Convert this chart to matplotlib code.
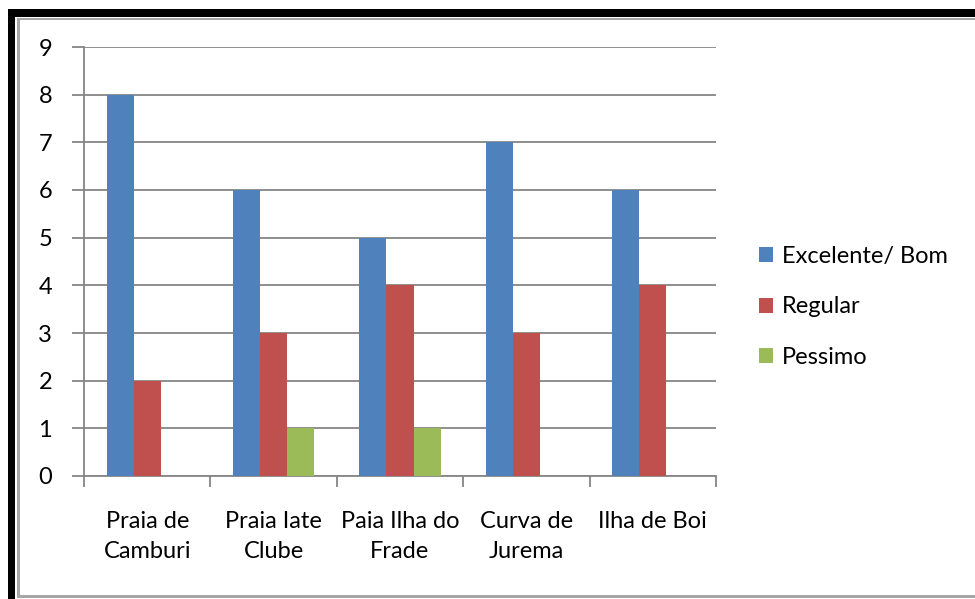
import numpy as np
import matplotlib
matplotlib.use("Agg")
import matplotlib.pyplot as plt
from matplotlib.patches import Rectangle

categories = ["Praia de\nCamburi", "Praia Iate\nClube", "Paia Ilha do\nFrade", "Curva de\nJurema", "Ilha de Boi"]
series_names = ["Excelente/ Bom", "Regular", "Pessimo"]
excelente_bom = [8, 6, 5, 7, 6]
regular = [2, 3, 4, 3, 4]
pessimo = [0, 1, 1, 0, 0]
y_ticks = [0, 1, 2, 3, 4, 5, 6, 7, 8, 9]

colors = ["#4F81BD", "#C0504D", "#9BBB59"]
grid_color = "#868686"
font = "Lato"
fsize = 17

W, H = 975, 599
fig = plt.figure(figsize=(W / 100, H / 100), dpi=100)
fig.patch.set_facecolor("white")

def fx(px):
    return px / W

def fy(py):
    return 1 - py / H

# frame around the chart
fig.patches.append(Rectangle((fx(8), 0), fx(7), fy(9), transform=fig.transFigure,
                             facecolor="black", edgecolor="none"))
fig.patches.append(Rectangle((fx(8), fy(17)), 1, fy(9) - fy(17), transform=fig.transFigure,
                             facecolor="black", edgecolor="none"))
fig.patches.append(Rectangle((fx(17), fy(20)), 1, fy(18) - fy(20), transform=fig.transFigure,
                             facecolor="#A6A6A6", edgecolor="none"))
fig.patches.append(Rectangle((fx(17), fy(598)), fx(3), fy(18) - fy(598), transform=fig.transFigure,
                             facecolor="#A6A6A6", edgecolor="none"))
fig.patches.append(Rectangle((fx(17), fy(598)), 1, fy(595) - fy(598), transform=fig.transFigure,
                             facecolor="#A6A6A6", edgecolor="none"))

ax_left, ax_right, ax_top, ax_bottom = 84, 716, 47, 476
ax = fig.add_axes([fx(ax_left), fy(ax_bottom), fx(ax_right - ax_left), fy(ax_top) - fy(ax_bottom)])

n = len(categories)
x = np.arange(n)
bar_w = 27 / 126
series = [excelente_bom, regular, pessimo]
bars = []
for i, (vals, c) in enumerate(zip(series, colors)):
    b = ax.bar(x + (i - 1) * bar_w, vals, width=bar_w, color=c, edgecolor="none", zorder=3)
    bars.append(b)

ax.set_xlim(-0.5, n - 0.5)
ax.set_ylim(0, 9)
ax.set_yticks(y_ticks)
ax.set_yticklabels([str(t) for t in y_ticks], fontfamily=font, fontsize=fsize)
ax.yaxis.grid(True, color=grid_color, linewidth=1.3, zorder=0)
ax.set_axisbelow(True)

ax.set_xticks(x)
ax.set_xticklabels(categories, fontfamily=font, fontsize=fsize, linespacing=1.55)
ax.set_xticks(np.arange(-0.5, n, 1), minor=True)
ax.tick_params(axis="x", which="major", length=0, pad=25)
ax.tick_params(axis="x", which="minor", length=8, width=1.3, color=grid_color)
ax.tick_params(axis="y", length=9, width=1.3, color=grid_color, pad=14)

for side in ["top", "right"]:
    ax.spines[side].set_visible(False)
for side in ["left", "bottom"]:
    ax.spines[side].set_color(grid_color)
    ax.spines[side].set_linewidth(1.3)

leg = fig.legend(bars, series_names, loc="center left", bbox_to_anchor=(fx(738), fy(307)),
                 frameon=False, prop={"family": font, "size": fsize},
                 handlelength=0.6, handleheight=0.6, handletextpad=0.35, labelspacing=1.25)

fig.savefig("out.png", dpi=100, facecolor="white")
